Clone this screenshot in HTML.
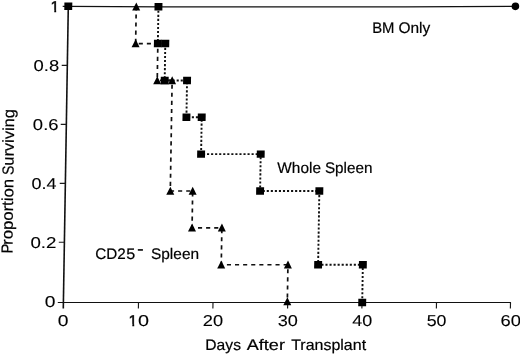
<!DOCTYPE html>
<html><head><meta charset="utf-8"><title>Survival</title>
<style>
html,body{margin:0;padding:0;background:#fff;}
svg{display:block;}
text{font-family:"Liberation Sans",sans-serif;font-size:15.3px;fill:#000;stroke:#000;stroke-width:0.2px;text-rendering:geometricPrecision;}
.n{font-size:15.8px;stroke-width:0.1px;}
.ttl{font-size:16px;}
.one{stroke-width:0.45px;}
.sup{font-size:19.2px;stroke-width:0.08px;}
</style></head><body>
<svg width="520" height="354" viewBox="0 0 520 354">
<rect width="520" height="354" fill="#fff"/>
<g transform="matrix(1 0 -0.01656 1 5.0011 0)">
<g stroke="#1a1a1a" stroke-width="1.15" fill="none">
<path d="M63.4 6.20 V308.4" stroke-width="1.6" stroke="#111"/>
<path d="M57.8 302.5 H511.02" stroke-width="1.15" stroke="#111"/>
<path d="M138.5 302.5 v6"/>
<path d="M213.0 302.5 v6"/>
<path d="M287.7 302.5 v6"/>
<path d="M362.0 302.5 v6"/>
<path d="M436.5 302.5 v6"/>
<path d="M510.5 302.5 v6"/>
<path d="M57.8 6.4 h5.6"/>
<path d="M57.8 65.3 h5.6"/>
<path d="M57.8 124.4 h5.6"/>
<path d="M57.8 183.3 h5.6"/>
<path d="M57.8 242.2 h5.6"/>
</g>
<path d="M63.4 6.3 Q286.96 7.55 510.52 6.4" stroke="#111" stroke-width="1.2" fill="none"/>
<circle cx="510.52" cy="6.35" r="3.8" fill="#000"/>
<g fill="none" stroke="#111" stroke-width="1.7">
<path d="M131.36 6.70 L131.36 43.56" stroke-dasharray="4.1 4.0" stroke-dashoffset="0.40"/>
<path d="M131.36 43.56 L153.57 43.56" stroke-dasharray="4.1 4.0" stroke-dashoffset="4.99"/>
<path d="M153.57 43.56 L153.57 80.43" stroke-dasharray="4.1 4.0" stroke-dashoffset="2.91"/>
<path d="M153.57 80.43 L168.47 80.43" stroke-dasharray="4.1 4.0" stroke-dashoffset="5.34"/>
<path d="M168.47 80.43 L168.47 191.01" stroke-dasharray="4.1 4.0" stroke-dashoffset="3.88"/>
<path d="M168.47 191.01 L190.83 191.01" stroke-dasharray="4.1 4.0" stroke-dashoffset="0.31"/>
<path d="M190.83 191.01 L190.83 227.88" stroke-dasharray="4.1 4.0" stroke-dashoffset="6.81"/>
<path d="M190.83 227.88 L220.64 227.88" stroke-dasharray="4.1 4.0" stroke-dashoffset="2.16"/>
<path d="M220.64 227.88 L220.64 264.74" stroke-dasharray="4.1 4.0" stroke-dashoffset="6.83"/>
<path d="M220.64 264.74 L287.33 264.74" stroke-dasharray="4.1 4.0" stroke-dashoffset="2.45"/>
<path d="M287.33 264.74 L287.33 301.60" stroke-dasharray="4.1 4.0" stroke-dashoffset="3.64"/>
</g>
<polyline points="153.57,6.70 153.57,43.56 161.02,43.56 161.02,80.43 183.38,80.43 183.38,117.29 198.65,117.29 198.65,154.15 258.27,154.15 258.27,191.01 317.51,191.01 317.51,264.74 362.23,264.74 362.23,301.60" fill="none" stroke="#111" stroke-width="1.9" stroke-dasharray="2.1 1.95"/>
<g fill="#000">
<path d="M131.36 2.40 L135.36 10.40 L127.36 10.40 Z"/>
<path d="M131.36 39.26 L135.36 47.26 L127.36 47.26 Z"/>
<path d="M153.57 76.13 L157.57 84.13 L149.57 84.13 Z"/>
<path d="M161.02 76.13 L165.02 84.13 L157.02 84.13 Z"/>
<path d="M168.47 76.13 L172.47 84.13 L164.47 84.13 Z"/>
<path d="M168.47 186.71 L172.47 194.71 L164.47 194.71 Z"/>
<path d="M190.83 186.71 L194.83 194.71 L186.83 194.71 Z"/>
<path d="M190.83 223.58 L194.83 231.58 L186.83 231.58 Z"/>
<path d="M220.64 223.58 L224.64 231.58 L216.64 231.58 Z"/>
<path d="M220.64 260.44 L224.64 268.44 L216.64 268.44 Z"/>
<path d="M287.33 260.44 L291.33 268.44 L283.33 268.44 Z"/>
<path d="M287.33 297.20 L291.33 305.20 L283.33 305.20 Z"/>
<rect x="59.45" y="2.55" width="7.9" height="7.4"/>
<rect x="149.62" y="3.00" width="7.9" height="7.4"/>
<rect x="149.62" y="39.86" width="7.9" height="7.4"/>
<rect x="157.07" y="39.86" width="7.9" height="7.4"/>
<rect x="157.07" y="76.73" width="7.9" height="7.4"/>
<rect x="179.43" y="76.73" width="7.9" height="7.4"/>
<rect x="179.43" y="113.59" width="7.9" height="7.4"/>
<rect x="194.70" y="113.59" width="7.9" height="7.4"/>
<rect x="194.70" y="150.45" width="7.9" height="7.4"/>
<rect x="254.32" y="150.45" width="7.9" height="7.4"/>
<rect x="254.32" y="187.31" width="7.9" height="7.4"/>
<rect x="313.56" y="187.31" width="7.9" height="7.4"/>
<rect x="313.56" y="261.04" width="7.9" height="7.4"/>
<rect x="358.28" y="261.04" width="7.9" height="7.4"/>
<rect x="358.28" y="298.80" width="7.9" height="7.4"/>
</g>
</g>
<g class="lbl">
<text><tspan class="n one" x="50.55" y="11.6">1</tspan></text>
<rect x="50.25" y="9.90" width="4.02" height="3.4" fill="#fff"/>
<rect x="56.17" y="9.90" width="3.28" height="3.4" fill="#fff"/>
<text><tspan class="n" x="33.59" y="70.7" textLength="25.62" lengthAdjust="spacingAndGlyphs">0.8</tspan></text>
<text><tspan class="n" x="32.88" y="129.8" textLength="25.65" lengthAdjust="spacingAndGlyphs">0.6</tspan></text>
<text><tspan class="n" x="31.60" y="188.6" textLength="25.02" lengthAdjust="spacingAndGlyphs">0.4</tspan></text>
<text><tspan class="n" x="30.40" y="247.6" textLength="25.97" lengthAdjust="spacingAndGlyphs">0.2</tspan></text>
<text><tspan class="n" x="44.83" y="307.4" textLength="10.73" lengthAdjust="spacingAndGlyphs">0</tspan></text>
<text><tspan class="n" x="57.83" y="325.6" textLength="10.73" lengthAdjust="spacingAndGlyphs">0</tspan></text>
<text><tspan class="n one" x="128.60" y="325.6">1</tspan><tspan class="n" x="138.11" y="325.6" textLength="11.03" lengthAdjust="spacingAndGlyphs">0</tspan></text>
<rect x="128.30" y="323.90" width="4.02" height="3.4" fill="#fff"/>
<rect x="134.22" y="323.90" width="3.28" height="3.4" fill="#fff"/>
<text><tspan class="n" x="202.80" y="325.6" textLength="20.27" lengthAdjust="spacingAndGlyphs">20</tspan></text>
<text><tspan class="n" x="277.81" y="325.6" textLength="20.14" lengthAdjust="spacingAndGlyphs">30</tspan></text>
<text><tspan class="n" x="352.17" y="325.6" textLength="19.98" lengthAdjust="spacingAndGlyphs">40</tspan></text>
<text><tspan class="n" x="426.65" y="325.6" textLength="19.79" lengthAdjust="spacingAndGlyphs">50</tspan></text>
<text><tspan class="n" x="500.51" y="325.6" textLength="20.43" lengthAdjust="spacingAndGlyphs">60</tspan></text>
<text><tspan x="205.34" y="349.5" textLength="35.63" lengthAdjust="spacingAndGlyphs">Days</tspan> <tspan x="246.72" y="349.5" textLength="38.24" lengthAdjust="spacingAndGlyphs">After</tspan> <tspan x="291.19" y="349.5" textLength="74.9" lengthAdjust="spacingAndGlyphs">Transplant</tspan></text>
<text><tspan x="372.13" y="32.9" textLength="22.3" lengthAdjust="spacingAndGlyphs">BM</tspan> <tspan x="398.46" y="32.9" textLength="31.78" lengthAdjust="spacingAndGlyphs">Only</tspan></text>
<text><tspan x="277.33" y="173.1" textLength="43.62" lengthAdjust="spacingAndGlyphs">Whole</tspan> <tspan x="324.93" y="173.1" textLength="47.53" lengthAdjust="spacingAndGlyphs">Spleen</tspan></text>
<text><tspan x="95.29" y="258.9" textLength="30.47" lengthAdjust="spacingAndGlyphs">CD2</tspan><tspan x="126.34" y="258.9" textLength="9.0" lengthAdjust="spacingAndGlyphs">5</tspan><tspan class="sup" x="137.14" y="255.0" textLength="6.78" lengthAdjust="spacingAndGlyphs">-</tspan> <tspan x="151.01" y="258.9" textLength="48.05" lengthAdjust="spacingAndGlyphs">Spleen</tspan></text>
<text transform="translate(12.4 252.5) rotate(-89.2)"><tspan class="ttl" x="-1.05" y="0" textLength="9.71" lengthAdjust="spacingAndGlyphs">P</tspan><tspan class="ttl" x="7.62" y="0" textLength="65.83" lengthAdjust="spacingAndGlyphs">roportion</tspan> <tspan class="ttl" x="77.64" y="-0.1" textLength="9.34" lengthAdjust="spacingAndGlyphs">S</tspan><tspan class="ttl" x="86.77" y="-0.1" textLength="56.57" lengthAdjust="spacingAndGlyphs">urviving</tspan></text>
</g>
</svg>
</body></html>
